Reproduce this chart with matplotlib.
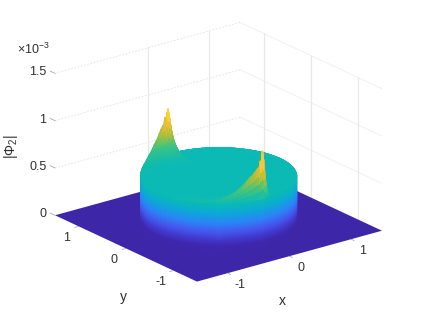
import numpy as np
import matplotlib
matplotlib.use("Agg")
import matplotlib.pyplot as plt
from matplotlib.colors import LinearSegmentedColormap
from mpl_toolkits.mplot3d import proj3d

plt.rcParams['font.family'] = ['Liberation Sans', 'DejaVu Sans']
plt.rcParams['mathtext.fontset'] = 'custom'
plt.rcParams['mathtext.rm'] = 'Liberation Sans'
plt.rcParams['mathtext.it'] = 'Liberation Sans'
plt.rcParams['mathtext.default'] = 'regular'

# all heights are in units of 1e-3
x_ticks = [-1, 0, 1]
y_ticks = [-1, 0, 1]
z_ticks = [0, 0.5, 1, 1.5]
z_tick_labels = ['0', '0.5', '1', '1.5']
x_grid = [0, 1]
y_grid = [-1, 0, 1]
z_grid = [0.5, 1, 1.5]

# wall of the disc, going up at r=1
wall_z = [0, 0.02, 0.04, 0.06, 0.08, 0.10, 0.12, 0.14, 0.16, 0.18, 0.20, 0.22, 0.24,
          0.26, 0.28, 0.30, 0.32, 0.34, 0.36, 0.38, 0.40, 0.42, 0.44, 0.46, 0.48, 0.50]
disc_height = 0.5

# height above the disc along the rim (angle in degrees), front and back crescent
front_deg = [-165, -150, -140, -130, -125, -120, -116, -113, -110, -107, -104, -101, -99, -97,
             -96, -95, -94, -93, -92, -91, -90, -89, -88, -87]
front_rise = [0, 0.01, 0.02, 0.035, 0.05, 0.075, 0.10, 0.13, 0.16, 0.20, 0.24, 0.27, 0.30, 0.33,
              0.32, 0.40, 0.38, 0.50, 0.40, 0.27, 0.16, 0.08, 0.03, 0]
back_deg = [84, 86, 88, 89, 90, 91, 92, 93, 94, 95, 96, 97, 98, 100, 102, 104, 106, 108,
            110, 113, 116, 120, 125, 130, 140, 150, 165]
back_rise = [0, 0.02, 0.08, 0.15, 0.25, 0.33, 0.42, 0.48, 0.44, 0.37, 0.40, 0.33, 0.32, 0.29,
             0.25, 0.21, 0.18, 0.16, 0.13, 0.10, 0.08, 0.05, 0.03, 0.02, 0.01, 0.005, 0]

# how the rise dies away going inwards from the rim
ring_r = [1, 0.98, 0.96, 0.94, 0.92, 0.9, 0.875, 0.85, 0.825, 0.8, 0.75, 0.7, 0.6, 0.5, 0.3, 0]
ring_share = [1, 0.82, 0.67, 0.55, 0.45, 0.38, 0.31, 0.25, 0.2, 0.15, 0.09, 0.05, 0.02, 0.005, 0, 0]
rim_share = [0.25, 0.5, 0.75]

parula = LinearSegmentedColormap.from_list('parula', [
    (0, (0.2422, 0.1504, 0.6603)), (0.06, (0.245, 0.16, 0.69)), (0.125, (0.26, 0.22, 0.80)),
    (0.2, (0.27, 0.34, 0.93)), (0.3, (0.17, 0.52, 0.97)), (0.4, (0.05, 0.66, 0.84)),
    (0.5, (0.04, 0.73, 0.71)), (0.62, (0.25, 0.77, 0.50)),
    (0.75, (0.72, 0.75, 0.20)), (0.875, (0.98, 0.75, 0.24)), (1, (0.98, 0.98, 0.08))])

W, H = 423, 317
fig = plt.figure(figsize=(W / 100, H / 100), dpi=100)
ax = fig.add_axes([0, 0, 1, 1], projection='3d', computed_zorder=False)
ax.set_proj_type('ortho')
ax.view_init(elev=21, azim=-127.5)
ax.set_box_aspect((1, 1, 0.652))
ax.set_xlim(-1.5, 1.5)
ax.set_ylim(-1.5, 1.5)
ax.set_zlim(0, 1.5)
ax.set_xticks([])
ax.set_yticks([])
ax.set_zticks([])
ax.set_axis_off()


def to_px(x, y, z):
    sx, sy, _ = proj3d.proj_transform(x, y, z, ax.get_proj())
    return ax.transData.transform((sx, sy))


# fit the box so its floor corners land where they are in the picture
side = 400.0
cx, cy = 218.5, H - 223.0
ax.set_position([(cx - side / 2) / W, (cy - side / 2) / H, side / W, side / H])
for i in range(3):
    ax.apply_aspect()
    a = to_px(-1.5, 1.5, 0)
    b = to_px(1.5, -1.5, 0)
    side = side * 327.0 / (b[0] - a[0])
    left = ax.get_position().x0 * W + cx - (a[0] + b[0]) / 2
    low = ax.get_position().y0 * H + cy - (a[1] + b[1]) / 2
    ax.set_position([left / W, low / H, side / W, side / H])

grid_col = '#e8e8e8'
wall_col = '#e2e2e2'
for z in z_grid:
    ax.plot([-1.5, 1.5], [1.5, 1.5], [z, z], color=wall_col, lw=0.6, ls=(0, (2, 2)), zorder=1)
    ax.plot([1.5, 1.5], [1.5, -1.5], [z, z], color='#ececec', lw=0.5, zorder=1)
for x in x_grid:
    ax.plot([x, x], [1.5, 1.5], [0, 1.5], color=grid_col, lw=0.9, zorder=1)
for y in y_grid:
    ax.plot([1.5, 1.5], [y, y], [0, 1.5], color=grid_col, lw=0.9, zorder=1)

# floor
fx, fy = np.meshgrid([-1.5, 1.5], [-1.5, 1.5])
ax.plot_surface(fx, fy, np.zeros_like(fx), color=parula(0.0), shade=False, linewidth=0,
                rstride=1, cstride=1, zorder=2)

# disc: rows go up the wall, up the rim and then in to the centre
theta = np.concatenate([np.arange(-180, -165, 5), front_deg, np.arange(-85, 84, 5), back_deg,
                        np.arange(170, 181, 5)])
rise = np.concatenate([np.zeros(3), front_rise, np.zeros(len(np.arange(-85, 84, 5))), back_rise,
                       np.zeros(3)])
rows_r = [1.0] * len(wall_z) + [1.0] * len(rim_share) + ring_r
rows_base = wall_z + [disc_height] * (len(rim_share) + len(ring_r))
rows_share = [0.0] * len(wall_z) + rim_share + ring_share
th = np.deg2rad(theta)
X = np.outer(rows_r, np.cos(th))
Y = np.outer(rows_r, np.sin(th))
Z = np.array(rows_base)[:, None] + np.outer(rows_share, rise)
Zm = (Z[:-1, :-1] + Z[1:, :-1] + Z[:-1, 1:] + Z[1:, 1:]) / 4
ax.plot_surface(X, Y, Z, facecolors=parula(Zm / 1.0), shade=False, linewidth=0.9,
                rstride=1, cstride=1, zorder=3)

# tick marks
tick_col = '#9a9a9a'
for x in x_ticks:
    ax.plot([x, x], [-1.5, -1.56], [0, 0], color=tick_col, lw=0.5, zorder=4)
for y in y_ticks:
    ax.plot([-1.5, -1.56], [y, y], [0, 0], color=tick_col, lw=0.5, zorder=4)
for z in z_ticks:
    ax.plot([-1.5, -1.5], [1.5, 1.6], [z, z], color=tick_col, lw=0.5, zorder=4)

txt = '#303030'
for x in x_ticks:
    ax.text(x, -1.75, -0.065, str(x), ha='center', va='center', fontsize=9, color=txt, zorder=5)
for y in y_ticks:
    ax.text(-1.7, y, -0.09, str(y), ha='center', va='center', fontsize=9, color=txt, zorder=5)
for z, s in zip(z_ticks, z_tick_labels):
    ax.text(-1.64, 1.5, z + 0.035, s, ha='right', va='center', fontsize=9, color=txt, zorder=5)

fig.text(17 / W, 1 - 49 / H, '×10$^{-3}$', ha='left', va='center', fontsize=9, color=txt)
fig.text(282 / W, 1 - 301 / H, 'x', ha='center', va='center', fontsize=10, color=txt)
fig.text(123 / W, 1 - 297 / H, 'y', ha='center', va='center', fontsize=10, color=txt)
fig.text(11 / W, 1 - 147 / H, r'$|\Phi_2|$', ha='center', va='center', rotation=90, fontsize=10, color=txt)

fig.savefig('out.png', dpi=100)
